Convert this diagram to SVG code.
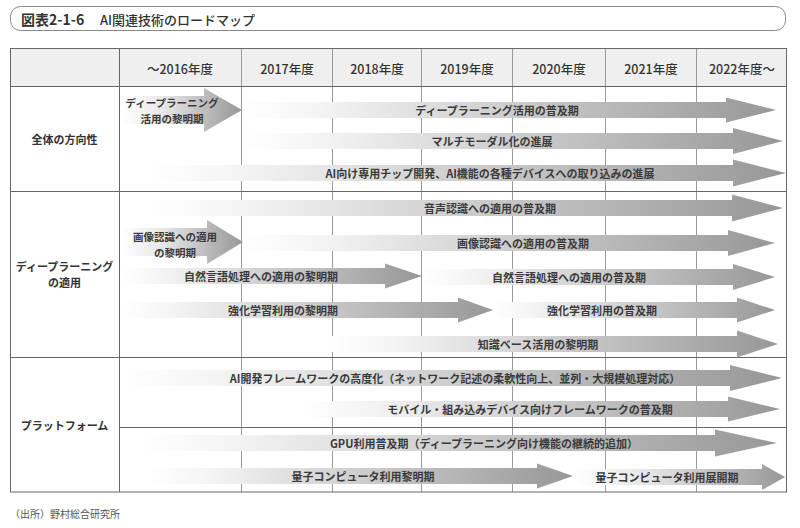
<svg xmlns="http://www.w3.org/2000/svg" width="800" height="528" viewBox="0 0 800 528">
<defs>
<linearGradient id="g" x1="0" y1="0" x2="1" y2="0">
<stop offset="0" stop-color="#ffffff"/>
<stop offset="0.15" stop-color="#f3f3f3"/>
<stop offset="1" stop-color="#979797"/>
</linearGradient>
<linearGradient id="gs" x1="0" y1="0" x2="1" y2="0">
<stop offset="0" stop-color="#ffffff"/>
<stop offset="0.35" stop-color="#e6e6e6"/>
<stop offset="1" stop-color="#979797"/>
</linearGradient>
</defs>
<style>
text{font-family:"Noto Sans CJK JP","Noto Sans",sans-serif;fill:#333;}
.h{font-size:12.5px;text-anchor:middle;dominant-baseline:central;font-weight:500;}
.l{font-size:11px;text-anchor:middle;dominant-baseline:central;font-weight:700;}
.a{font-size:11px;text-anchor:middle;dominant-baseline:central;font-weight:700;fill:#3a3a3a;}
.a2{font-size:10.5px;text-anchor:middle;dominant-baseline:central;font-weight:700;fill:#3a3a3a;}
.major{stroke:#666;stroke-width:1;fill:none;}
.minor{stroke:#9a9a9a;stroke-width:1;fill:none;}
.arr{fill:url(#g);}
.arrs{fill:url(#gs);}
</style>
<rect width="800" height="528" fill="#fff"/>
<g id="title">
<rect x="10.5" y="6.5" width="775" height="24" rx="10" fill="#fff" stroke="#888"/>
<text x="21" y="19" style="font-size:14px;dominant-baseline:central;font-weight:700">図表2-1-6</text>
<text x="100" y="19" style="font-size:13px;dominant-baseline:central;font-weight:500">AI関連技術のロードマップ</text>
</g>
<g id="grid">
<rect x="10.5" y="48.5" width="776" height="38" fill="#efefef"/>
<line class="minor" x1="241.5" y1="48" x2="241.5" y2="492"/>
<line class="minor" x1="332.5" y1="48" x2="332.5" y2="492"/>
<line class="minor" x1="421.5" y1="48" x2="421.5" y2="492"/>
<line class="minor" x1="512.5" y1="48" x2="512.5" y2="492"/>
<line class="minor" x1="605.5" y1="48" x2="605.5" y2="492"/>
<line class="minor" x1="696.5" y1="48" x2="696.5" y2="492"/>
<line class="major" x1="119.5" y1="48" x2="119.5" y2="492"/>
<line class="major" x1="10" y1="86.5" x2="787" y2="86.5"/>
<line class="major" x1="10" y1="191.5" x2="787" y2="191.5"/>
<line class="major" x1="10" y1="357.5" x2="787" y2="357.5"/>
<line class="major" x1="119" y1="427.5" x2="787" y2="427.5"/>
<rect class="major" x="10.5" y="48.5" width="776" height="443.5"/>
</g>
<g id="header">
<text class="h" x="180" y="68">～2016年度</text>
<text class="h" x="287" y="68">2017年度</text>
<text class="h" x="377" y="68">2018年度</text>
<text class="h" x="467" y="68">2019年度</text>
<text class="h" x="559" y="68">2020年度</text>
<text class="h" x="651" y="68">2021年度</text>
<text class="h" x="742" y="68">2022年度～</text>
</g>
<g id="row-labels">
<text class="l" x="64.5" y="139">全体の方向性</text>
<text class="l" x="64.5" y="266">ディープラーニング</text>
<text class="l" x="64.5" y="282">の適用</text>
<text class="l" x="64.5" y="425">プラットフォーム</text>
</g>
<g id="connectors">
<g id="a1"><polygon class="arrs" points="122,96 204,96 204,88 242,110 204,132 204,124 122,124"/>
<text class="a2" x="172" y="102">ディープラーニング</text><text class="a2" x="172" y="118">活用の黎明期</text></g>
<g id="a2"><polygon class="arr" points="243,102 726,102 726,97.5 776,110 726,122.5 726,118 243,118"/>
<text class="a" x="497" y="110">ディープラーニング活用の普及期</text></g>
<g id="a3"><polygon class="arr" points="245,133 733,133 733,128 783,141 733,154 733,149 245,149"/>
<text class="a" x="492" y="141">マルチモーダル化の進展</text></g>
<g id="a4"><polygon class="arr" points="150,165 733,165 733,159.5 786,173 733,186.5 733,181 150,181"/>
<text class="a" x="490" y="173">AI向け専用チップ開発、AI機能の各種デバイスへの取り込みの進展</text></g>
<g id="a5"><polygon class="arr" points="150,200 732,200 732,194.5 783,208 732,221.5 732,216 150,216"/>
<text class="a" x="490" y="208">音声認識への適用の普及期</text></g>
<g id="a6"><polygon class="arrs" points="122,228 207,228 207,220 243,242 207,264 207,256 122,256"/>
<text class="a2" x="175" y="236">画像認識への適用</text><text class="a2" x="175" y="252">の黎明期</text></g>
<g id="a7"><polygon class="arr" points="245,235 728,235 728,230 775,243 728,256 728,251 245,251"/>
<text class="a" x="523" y="243">画像認識への適用の普及期</text></g>
<g id="a8"><polygon class="arr" points="122,268 385,268 385,263.5 422,276 385,288.5 385,284 122,284"/>
<text class="a" x="261" y="276">自然言語処理への適用の黎明期</text></g>
<g id="a9"><polygon class="arr" points="422,269 733,269 733,264 775,277 733,290 733,285 422,285"/>
<text class="a" x="569" y="277">自然言語処理への適用の普及期</text></g>
<g id="a10"><polygon class="arr" points="122,302 458,302 458,297.5 493,310 458,322.5 458,318 122,318"/>
<text class="a" x="283" y="310">強化学習利用の黎明期</text></g>
<g id="a11"><polygon class="arr" points="493,302 737,302 737,297.5 775,310 737,322.5 737,318 493,318"/>
<text class="a" x="602" y="310">強化学習利用の普及期</text></g>
<g id="a12"><polygon class="arr" points="330,336 737,336 737,330.5 778,344 737,357.5 737,352 330,352"/>
<text class="a" x="538" y="344">知識ベース活用の黎明期</text></g>
<g id="a13"><polygon class="arr" points="122,370 730,370 730,365 782,378 730,391 730,386 122,386"/>
<text class="a" x="455" y="378">AI開発フレームワークの高度化（ネットワーク記述の柔軟性向上、並列・大規模処理対応）</text></g>
<g id="a14"><polygon class="arr" points="300,401 728,401 728,396.5 780,409 728,421.5 728,417 300,417"/>
<text class="a" x="530" y="409">モバイル・組み込みデバイス向けフレームワークの普及期</text></g>
<g id="a15"><polygon class="arr" points="140,435 715,435 715,429.5 777,443 715,456.5 715,451 140,451"/>
<text class="a" x="484" y="443">GPU利用普及期（ディープラーニング向け機能の継続的追加）</text></g>
<g id="a16"><polygon class="arr" points="150,468 537,468 537,463.5 573,476 537,488.5 537,484 150,484"/>
<text class="a" x="363" y="476">量子コンピュータ利用黎明期</text></g>
<g id="a17"><polygon class="arrs" points="573,469 762,469 762,464 785,477 762,490 762,485 573,485"/>
<text class="a" x="667" y="477">量子コンピュータ利用展開期</text></g>
</g>
<g id="source">
<text x="10" y="514" style="font-family:'Liberation Serif','Noto Sans CJK JP',serif;font-size:10px;dominant-baseline:central;fill:#555">（出所）野村総合研究所</text>
</g>
</svg>
